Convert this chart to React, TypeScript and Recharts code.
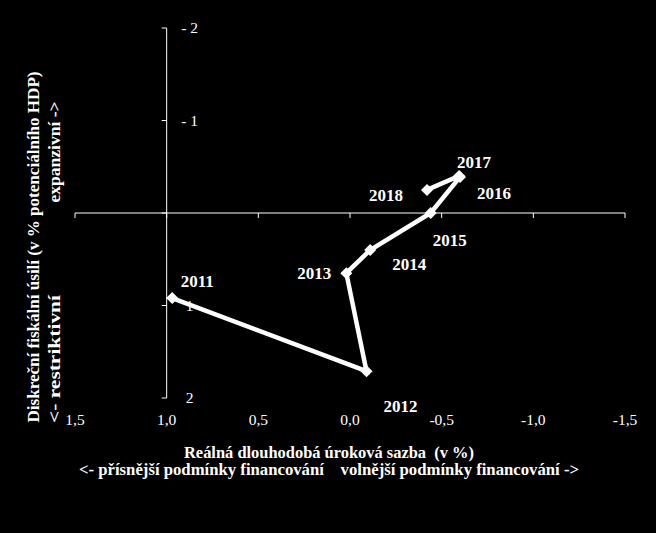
import { ScatterChart, Scatter, XAxis, YAxis, ReferenceLine } from 'recharts';

// data
const years = ['2011', '2012', '2013', '2014', '2015', '2016', '2017', '2018'];
const realRate = [0.97, -0.09, 0.02, -0.11, -0.44, -0.6, -0.595, -0.42];
const fiscalEffort = [0.92, 1.71, 0.65, 0.4, 0.0, -0.39, -0.4, -0.25];
const xTicks = [1.5, 1, 0.5, 0, -0.5, -1, -1.5];
const yTicks = [-2, -1, 0, 1, 2];

const data = years.map((year, i) => ({ year, x: realRate[i], y: fiscalEffort[i] }));

// where each year label sits relative to its marker (px)
const labelOffset: Record<string, [number, number]> = {
  '2011': [25, -17],
  '2012': [34, 35],
  '2013': [-32, 0],
  '2014': [39, 14],
  '2015': [19, 27],
  '2016': [34, 16],
  '2017': [15, -14],
  '2018': [-41, 5],
};

const W = 656;
const H = 533;
const Y_AXIS_W = 1;
const M = { top: 28, right: 31, bottom: 105, left: 75 - Y_AXIS_W };
const X_AXIS_H = 30;
const PLOT_LEFT = M.left + Y_AXIS_W;
const PLOT_W = W - PLOT_LEFT - M.right;
const PLOT_H = H - M.top - M.bottom - X_AXIS_H;
const ZERO_Y = M.top + PLOT_H * (2 / 4);
const Y_AXIS_X = PLOT_LEFT + PLOT_W * ((1.5 - 1) / 3);

const FONT = "'Liberation Serif', 'Times New Roman', serif";

const fmtX = (v: number) => v.toFixed(1).replace('.', ',');
const fmtY = (v: number) => (v < 0 ? `- ${-v}` : v === 0 ? '' : `${v}`);

const XTick = ({ x, payload }: any) => (
  <g>
    <line x1={x} x2={x} y1={ZERO_Y} y2={ZERO_Y + 5} stroke="#fff" strokeWidth={1} />
    <text x={x} y={420} dy="0.35em" textAnchor="middle" fill="#fff" fontSize={15.5} fontFamily={FONT}>
      {fmtX(payload.value)}
    </text>
  </g>
);

const YTick = ({ y, payload }: any) => (
  <g>
    <line x1={Y_AXIS_X - 5} x2={Y_AXIS_X} y1={y} y2={y} stroke="#fff" strokeWidth={1} />
    <text x={Y_AXIS_X + 23} y={y} dy="0.35em" textAnchor="middle" fill="#fff" fontSize={15.5} fontFamily={FONT}>
      {fmtY(payload.value)}
    </text>
  </g>
);

const Marker = ({ cx, cy, payload }: any) => {
  const [dx, dy] = labelOffset[payload.year] || [0, -15];
  const r = 6;
  return (
    <g>
      <polygon
        points={`${cx},${cy - r} ${cx + r},${cy} ${cx},${cy + r} ${cx - r},${cy}`}
        fill="#fff"
      />
      <text
        x={cx + dx}
        y={cy + dy}
        dy="0.35em"
        textAnchor="middle"
        fill="#fff"
        fontSize={17}
        fontWeight="bold"
        fontFamily={FONT}
      >
        {payload.year}
      </text>
    </g>
  );
};

const titleStyle = {
  fill: '#fff',
  fontSize: 16,
  fontWeight: 'bold' as const,
  fontFamily: FONT,
  whiteSpace: 'pre' as const,
};

export default function App() {
  return (
    <div style={{ position: 'fixed', left: 0, top: 0, width: W, height: H, background: '#000' }}>
      <ScatterChart width={W} height={H} margin={M}>
        <XAxis
          type="number"
          dataKey="x"
          domain={[-1.5, 1.5]}
          reversed
          ticks={xTicks}
          interval={0}
          height={X_AXIS_H}
          axisLine={false}
          tickLine={false}
          tickSize={0}
          tick={<XTick />}
        />
        <YAxis
          type="number"
          dataKey="y"
          domain={[-2, 2]}
          reversed
          ticks={yTicks}
          interval={0}
          width={Y_AXIS_W}
          axisLine={false}
          tickLine={false}
          tickSize={0}
          tick={<YTick />}
        />
        <ReferenceLine y={0} stroke="#fff" strokeWidth={1} />
        <ReferenceLine x={1} stroke="#fff" strokeWidth={1} />
        <Scatter
          data={data}
          line={{ stroke: '#fff', strokeWidth: 4.5 }}
          lineType="joint"
          shape={<Marker />}
          isAnimationActive={false}
        />
      </ScatterChart>
      <svg
        width={W}
        height={H}
        style={{ position: 'absolute', left: 0, top: 0, pointerEvents: 'none' }}
      >
        <text x={329} y={452} dy="0.35em" textAnchor="middle" textLength={290} lengthAdjust="spacingAndGlyphs" style={titleStyle}>
          {'Reálná dlouhodobá úroková sazba  (v %)'}
        </text>
        <text x={329} y={469} dy="0.35em" textAnchor="middle" textLength={500} lengthAdjust="spacingAndGlyphs" style={titleStyle}>
          {'<- přísnější podmínky financování    volnější podmínky financování ->'}
        </text>
        <text
          x={0}
          y={0}
          dy="0.35em"
          textAnchor="middle"
          textLength={351}
          lengthAdjust="spacingAndGlyphs"
          transform="translate(33,247) rotate(-90)"
          style={titleStyle}
        >
          {'Diskreční fiskální úsilí (v % potenciálního HDP)'}
        </text>
        <text
          x={0}
          y={0}
          dy="0.35em"
          textAnchor="middle"
          textLength={128}
          lengthAdjust="spacingAndGlyphs"
          transform="translate(54,359) rotate(-90)"
          style={titleStyle}
        >
          {'<- restriktivní'}
        </text>
        <text
          x={0}
          y={0}
          dy="0.35em"
          textAnchor="middle"
          textLength={101}
          lengthAdjust="spacingAndGlyphs"
          transform="translate(54,152) rotate(-90)"
          style={titleStyle}
        >
          {'expanzivní ->'}
        </text>
      </svg>
    </div>
  );
}
